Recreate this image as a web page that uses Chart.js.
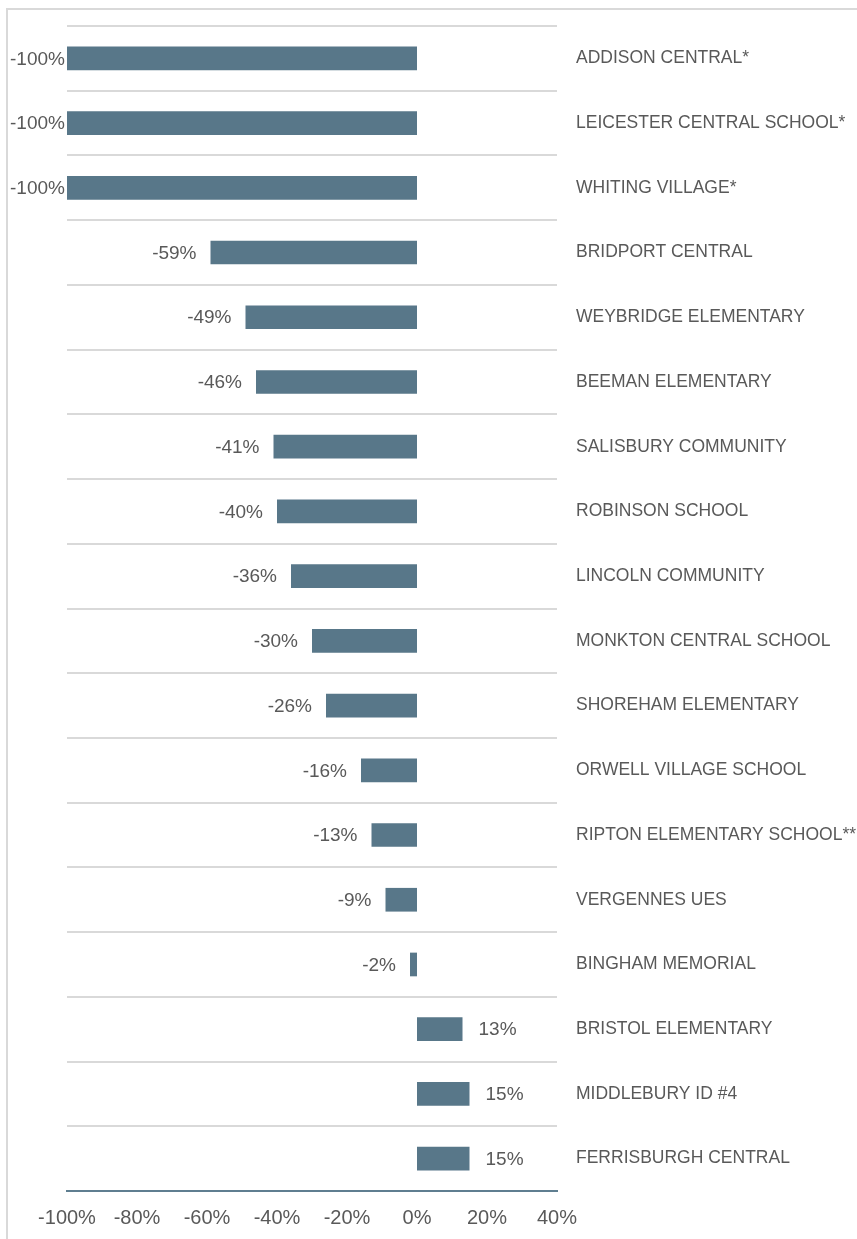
<!DOCTYPE html>
<html>
<head>
<meta charset="utf-8">
<script src="https://cdn.jsdelivr.net/npm/chart.js@4/dist/chart.umd.min.js"></script>
<style>
  html, body { margin: 0; padding: 0; background: #fff; }
  #wrap { position: relative; width: 857px; height: 1239px; }
  #frame { position: absolute; left: 6px; top: 8px; right: -10px; bottom: -10px;
           border-left: 2px solid #d9d9d9; border-top: 2px solid #d9d9d9; }
  canvas { position: absolute; left: 0; top: 0; }
</style>
</head>
<body>
<div id="wrap">
  <div id="frame"></div>
  <canvas id="c" width="857" height="1239"></canvas>
</div>
<script>
const schools = [
  "ADDISON CENTRAL*",
  "LEICESTER CENTRAL SCHOOL*",
  "WHITING VILLAGE*",
  "BRIDPORT CENTRAL",
  "WEYBRIDGE ELEMENTARY",
  "BEEMAN ELEMENTARY",
  "SALISBURY COMMUNITY",
  "ROBINSON SCHOOL",
  "LINCOLN COMMUNITY",
  "MONKTON CENTRAL SCHOOL",
  "SHOREHAM ELEMENTARY",
  "ORWELL VILLAGE SCHOOL",
  "RIPTON ELEMENTARY SCHOOL**",
  "VERGENNES UES",
  "BINGHAM MEMORIAL",
  "BRISTOL ELEMENTARY",
  "MIDDLEBURY ID #4",
  "FERRISBURGH CENTRAL"
];
const changePct = [-100, -100, -100, -59, -49, -46, -41, -40, -36, -30, -26, -16, -13, -9, -2, 13, 15, 15];
const xTicks = [-100, -80, -60, -40, -20, 0, 20, 40];

const FONT = "'Liberation Sans', Arial, sans-serif";
const TEXT = "#595959";

const labelPlugin = {
  id: 'barLabels',
  afterDatasetsDraw(chart) {
    const ctx = chart.ctx;
    const meta = chart.getDatasetMeta(0);
    const data = chart.data.datasets[0].data;
    ctx.save();
    ctx.font = "19px " + FONT;
    ctx.fillStyle = TEXT;
    ctx.textBaseline = 'middle';
    meta.data.forEach((el, i) => {
      const v = data[i];
      const txt = v + '%';
      const w = ctx.measureText(txt).width;
      if (v < 0) {
        let xr = el.x - 14;
        if (xr - w < 10) xr = 10 + w;
        ctx.textAlign = 'right';
        ctx.fillText(txt, xr, el.y + 1);
      } else {
        ctx.textAlign = 'left';
        ctx.fillText(txt, el.x + 16, el.y + 1);
      }
    });
    ctx.restore();
  }
};

new Chart(document.getElementById('c'), {
  type: 'bar',
  data: {
    labels: schools,
    datasets: [{
      data: changePct,
      backgroundColor: '#587789',
      borderWidth: 0,
      barPercentage: 0.366,
      categoryPercentage: 1.0
    }]
  },
  options: {
    indexAxis: 'y',
    responsive: false,
    animation: false,
    devicePixelRatio: 1,
    layout: { padding: { left: 67, top: 26, right: 0, bottom: 0 } },
    plugins: { legend: { display: false }, tooltip: { enabled: false } },
    scales: {
      x: {
        type: 'linear',
        min: -100,
        max: 40,
        z: 1,
        afterBuildTicks(scale) { scale.ticks = xTicks.map(v => ({ value: v })); },
        afterFit(scale) { scale.height = 48; },
        grid: { display: false, drawTicks: false },
        border: { display: true, color: '#5f7e90', width: 2 },
        ticks: {
          color: TEXT,
          font: { family: FONT, size: 20 },
          padding: 15,
          maxRotation: 0,
          callback: v => v + '%'
        }
      },
      y: {
        position: 'right',
        afterFit(scale) { scale.width = 300; scale.paddingTop = 0; scale.paddingBottom = 0; },
        grid: { display: true, offset: true, drawTicks: false, color: '#d9d9d9', lineWidth: 2 },
        border: { display: false },
        ticks: {
          color: TEXT,
          font: { family: FONT, size: 17.5 },
          padding: 19,
          crossAlign: 'near',
          autoSkip: false
        }
      }
    }
  },
  plugins: [labelPlugin]
});
</script>
</body>
</html>
